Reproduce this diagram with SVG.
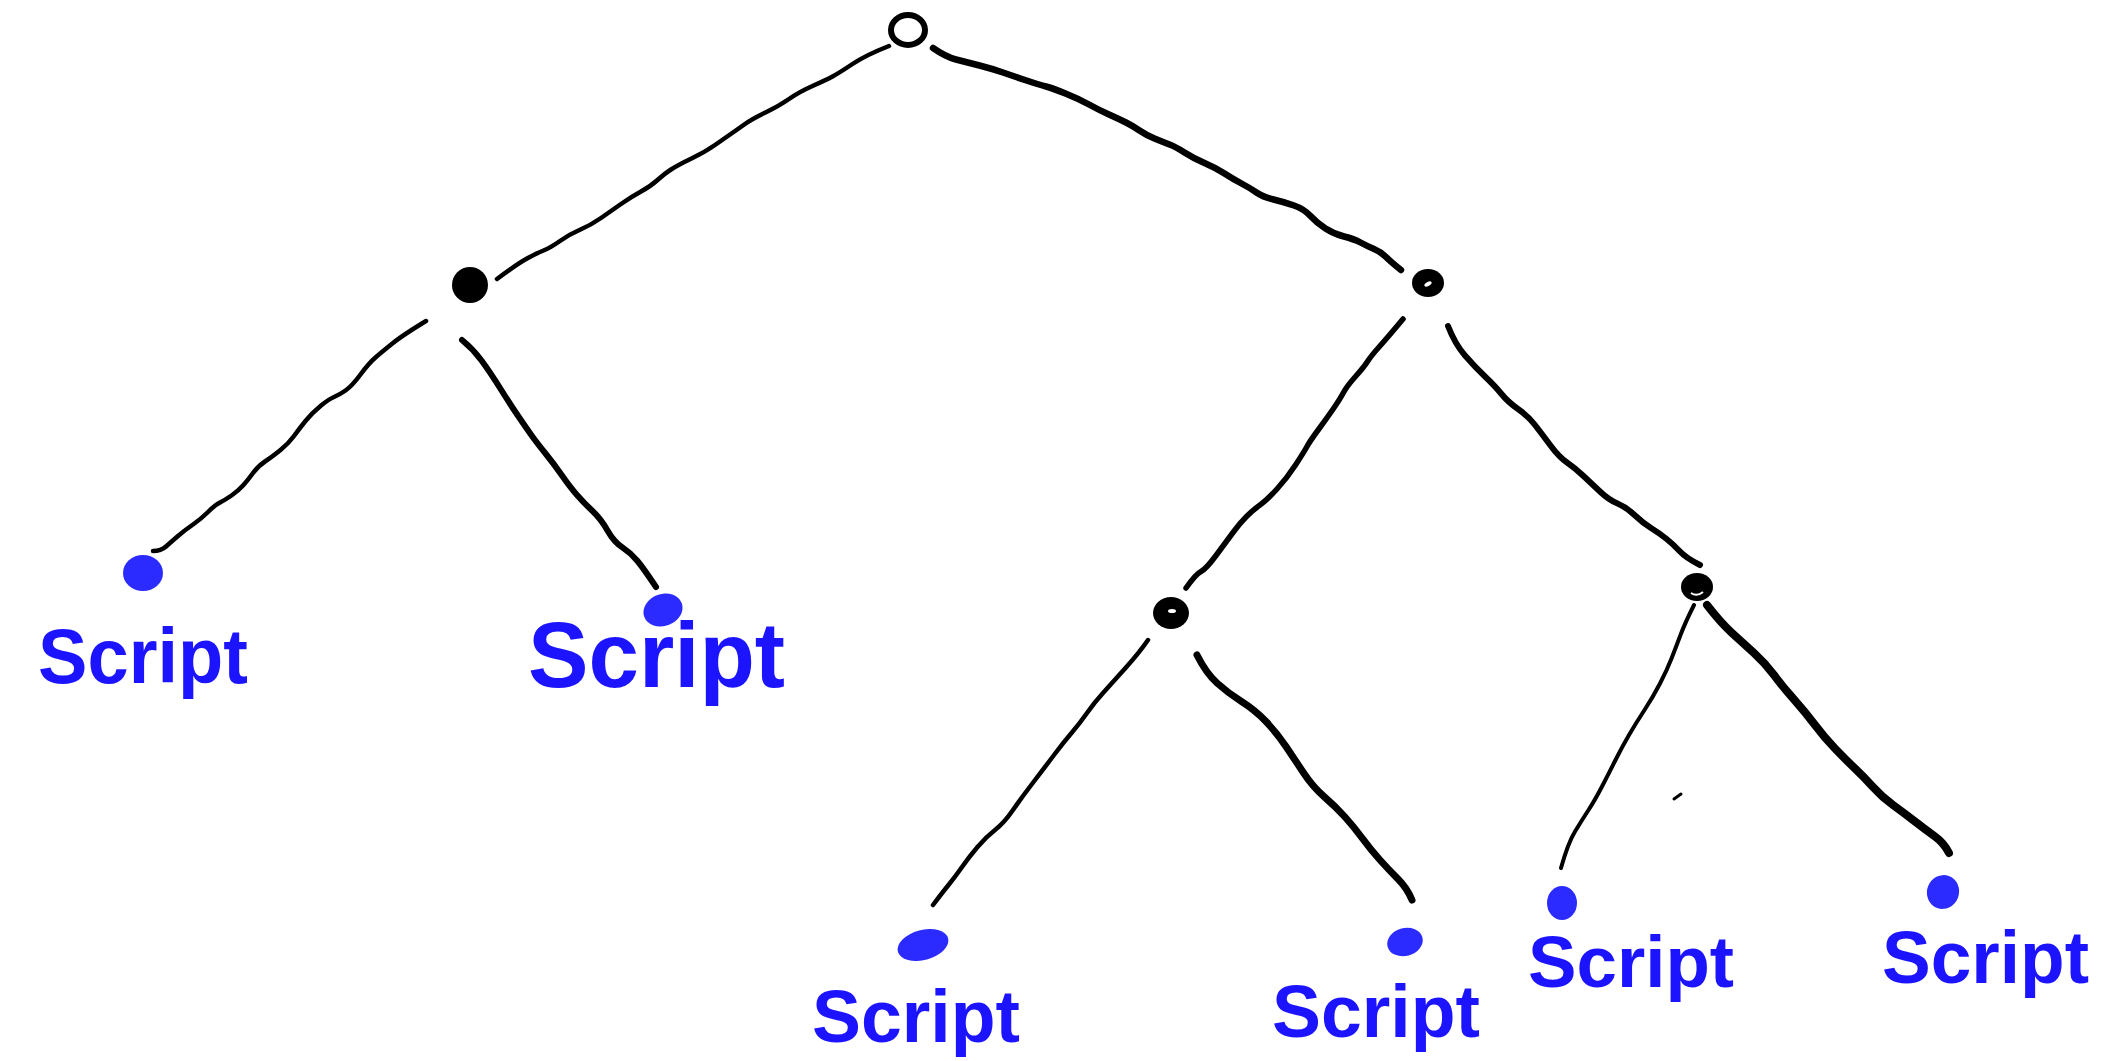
<svg xmlns="http://www.w3.org/2000/svg" width="2104" height="1061" viewBox="0 0 2104 1061">
<style>
.e{fill:none;stroke:#000;stroke-linecap:round;stroke-linejoin:round}
.n{fill:#000}
.slit{fill:#fff}
.dot{fill:#2b2bff}
.lbl{fill:#1c14ff;font-family:"Liberation Sans",Arial,sans-serif;font-weight:bold}
</style>
<rect width="2104" height="1061" fill="#fff"/>
<g id="connectors">
<path class="e" stroke-width="4.5" d="M889,46 Q866,55 852.5,64 Q839,73 832.5,76.5 Q826,80 812.5,86 Q799,92 789,99 Q779,106 765.5,112.5 Q752,119 745,124 Q738,129 731.5,133.5 Q725,138 715,145 Q705,152 691.5,158.5 Q678,165 671,169.5 Q664,174 657.5,180 Q651,186 641,191.5 Q631,197 621,204 Q611,211 601,218 Q591,225 580.5,229.5 Q570,234 560,241 Q550,248 543.5,250.5 Q537,253 527,258.5 Q517,264 497,279"/>
<path class="e" stroke-width="6.5" d="M933,48 Q946,57 956,59.5 Q966,62 979.5,65.5 Q993,69 1003,72.5 Q1013,76 1026.5,80.5 Q1040,85 1046,86.5 Q1052,88 1065.5,93.5 Q1079,99 1089,104.5 Q1099,110 1109,114.5 Q1119,119 1126,122.5 Q1133,126 1139.5,130.5 Q1146,135 1154.5,138.5 Q1163,142 1169.5,144.5 Q1176,147 1184.5,152.5 Q1193,158 1204.5,163 Q1216,168 1224.5,173.5 Q1233,179 1241.5,183.5 Q1250,188 1256.5,192.5 Q1263,197 1273.5,199.5 Q1284,202 1294,205.5 Q1304,209 1310.5,216 Q1317,223 1325.5,228.5 Q1334,234 1344,236.5 Q1354,239 1360.5,242.5 Q1367,246 1374,249 Q1381,252 1386,257 Q1391,262 1401,270"/>
<path class="e" stroke-width="4.5" d="M426,321 Q403,335 393,343 Q383,351 376,357 Q369,363 360.5,374.5 Q352,386 345.5,390.5 Q339,395 334,397 Q329,399 320.5,406 Q312,413 305.5,421 Q299,429 294,436 Q289,443 280.5,450 Q272,457 265,461.5 Q258,466 253,473 Q248,480 243,485.5 Q238,491 231.5,495.5 Q225,500 220,502.5 Q215,505 208,512 Q201,519 193,524.5 Q185,530 178,536 Q171,542 166,546.5 Q161,551 153,551"/>
<path class="e" stroke-width="6" d="M462,340 Q473,349 481.5,360.5 Q490,372 500,388 Q510,404 518.5,416.5 Q527,429 532,436 Q537,443 545.5,453.5 Q554,464 562,475.5 Q570,487 577,495 Q584,503 592.5,511 Q601,519 607.5,530.5 Q614,542 622.5,547.5 Q631,553 637.5,561 Q644,569 656,587"/>
<path class="e" stroke-width="5.5" d="M1403,319 Q1388,337 1379.5,346.5 Q1371,356 1367.5,361.5 Q1364,367 1355.5,376.5 Q1347,386 1343.5,392.5 Q1340,399 1333.5,408.5 Q1327,418 1318.5,429.5 Q1310,441 1307,446.5 Q1304,452 1295.5,465 Q1287,478 1277,489 Q1267,500 1260,505 Q1253,510 1246.5,516.5 Q1240,523 1233,532.5 Q1226,542 1216,555.5 Q1206,569 1201,571.5 Q1196,574 1186,588"/>
<path class="e" stroke-width="6" d="M1448,326 Q1455,344 1465,355.5 Q1475,367 1485,376.5 Q1495,386 1501.5,394 Q1508,402 1518,409 Q1528,416 1535,425 Q1542,434 1550.5,445.5 Q1559,457 1567,462.5 Q1575,468 1583.5,476 Q1592,484 1600.5,492 Q1609,500 1617.5,503.5 Q1626,507 1634.5,515 Q1643,523 1651,528 Q1659,533 1666,538.5 Q1673,544 1679.5,551 Q1686,558 1700,565"/>
<path class="e" stroke-width="4.5" d="M1148,640 Q1139,653 1125.5,668 Q1112,683 1103,693 Q1094,703 1087,713 Q1080,723 1071.5,733 Q1063,743 1054,755 Q1045,767 1033.5,782 Q1022,797 1013,810 Q1004,823 995,830 Q986,837 977.5,847 Q969,857 962,867 Q955,877 948.5,885 Q942,893 933,905"/>
<path class="e" stroke-width="7" d="M1197,655 Q1206,673 1217,683 Q1228,693 1241.5,701.5 Q1255,710 1266,721.5 Q1277,733 1286,746.5 Q1295,760 1304,773.5 Q1313,787 1324.5,797 Q1336,807 1345,817 Q1354,827 1362.5,838.5 Q1371,850 1380,860 Q1389,870 1398,879 Q1407,888 1412,900"/>
<path class="e" stroke-width="4" d="M1694,605 Q1685,623 1680.5,635 Q1676,647 1671.5,658.5 Q1667,670 1660,683.5 Q1653,697 1644.5,710 Q1636,723 1629,735 Q1622,747 1615.5,760 Q1609,773 1602,786.5 Q1595,800 1588.5,810 Q1582,820 1575,831.5 Q1568,843 1561,868"/>
<path class="e" stroke-width="8" d="M1707,605 Q1721,623 1732,633 Q1743,643 1754,653 Q1765,663 1774,675 Q1783,687 1794.5,700 Q1806,713 1815,725 Q1824,737 1835,748.5 Q1846,760 1855,768.5 Q1864,777 1873,787 Q1882,797 1893,805 Q1904,813 1915,821.5 Q1926,830 1935,836.5 Q1944,843 1949,853"/>
<path class="e" stroke-width="3" d="M1674,799 L1681,794"/>
</g>
<g id="root"><ellipse cx="908" cy="30" rx="17" ry="15" fill="none" stroke="#000" stroke-width="6"/></g>
<g id="n-left"><ellipse class="n" cx="470" cy="285" rx="18" ry="18"/></g>
<g id="n-right"><ellipse class="n" cx="1428" cy="283" rx="16" ry="14"/><ellipse class="slit" cx="1428" cy="284" rx="4" ry="2" transform="rotate(-30 1428 284)"/></g>
<g id="n-right-left"><ellipse class="n" cx="1171" cy="613" rx="18" ry="16"/><ellipse class="slit" cx="1172" cy="611" rx="4" ry="2"/></g>
<g id="n-right-right"><ellipse class="n" cx="1697" cy="587" rx="16" ry="14"/><path d="M1691,593 Q1697,597 1703,592" fill="none" stroke="#fff" stroke-width="2"/></g>
<g id="leaf1"><ellipse class="dot" cx="143" cy="573" rx="20" ry="18"/><text class="lbl" x="38" y="683" font-size="77" textLength="210" lengthAdjust="spacingAndGlyphs">Script</text></g>
<g id="leaf2"><ellipse class="dot" cx="663" cy="610" rx="20" ry="16" transform="rotate(-20 663 610)"/><text class="lbl" x="528" y="687" font-size="93" textLength="257" lengthAdjust="spacingAndGlyphs">Script</text></g>
<g id="leaf3"><ellipse class="dot" cx="923" cy="945" rx="26" ry="15" transform="rotate(-15 923 945)"/><text class="lbl" x="812" y="1042" font-size="75" textLength="208" lengthAdjust="spacingAndGlyphs">Script</text></g>
<g id="leaf4"><ellipse class="dot" cx="1405" cy="942" rx="18" ry="14" transform="rotate(-15 1405 942)"/><text class="lbl" x="1272" y="1037" font-size="75" textLength="208" lengthAdjust="spacingAndGlyphs">Script</text></g>
<g id="leaf5"><ellipse class="dot" cx="1562" cy="903" rx="15" ry="17"/><text class="lbl" x="1528" y="987" font-size="73" textLength="206" lengthAdjust="spacingAndGlyphs">Script</text></g>
<g id="leaf6"><ellipse class="dot" cx="1943" cy="892" rx="16" ry="17" transform="rotate(20 1943 892)"/><text class="lbl" x="1882" y="983" font-size="74" textLength="207" lengthAdjust="spacingAndGlyphs">Script</text></g>
</svg>
